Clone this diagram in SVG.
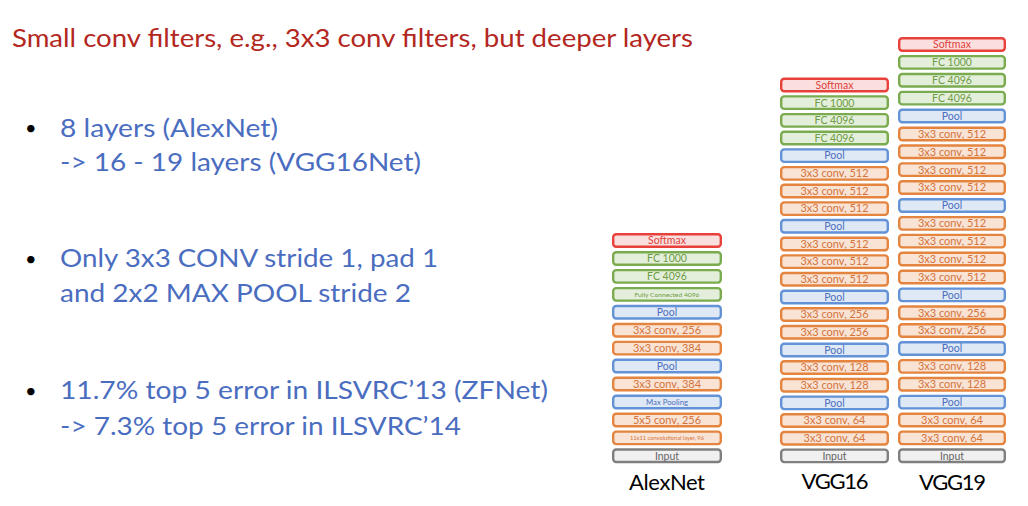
<svg xmlns="http://www.w3.org/2000/svg" width="1028" height="506" viewBox="0 0 1028 506">
<style>
text{font-family:Lato,"Open Sans","Liberation Sans",sans-serif}
.title{fill:#b3271e;font-size:25px}
.bl{fill:#4a6dbf;font-size:25px}
.dot{fill:#000;font-size:20px}
.cap{fill:#000;font-size:22px;text-anchor:middle}
rect{stroke-width:2.4}
.t{font-size:10.5px;text-anchor:middle}
.cv .t{font-size:11px}
.sm rect{fill:#fadfdf;stroke:#e8403a}.sm text{fill:#e0413a}
.fc rect{fill:#e3efda;stroke:#7aab4f}.fc text{fill:#6f9c45}
.pl rect{fill:#dfe9f5;stroke:#6393d6}.pl text{fill:#4d6fbd}
.cv rect{fill:#f8e3d5;stroke:#e4843f}.cv text{fill:#d5733a}
.in rect{fill:#f0f0f0;stroke:#7f7f7f}.in text{fill:#666}
</style>
<rect width="1028" height="506" fill="#fff" stroke="none"/>
<text class="title" x="12" y="47" textLength="681" lengthAdjust="spacingAndGlyphs">Small conv filters, e.g., 3x3 conv filters, but deeper layers</text>
<g id="bullets">
<text class="dot" x="25" y="134.5">•</text>
<text class="bl" x="60" y="136.5" textLength="218" lengthAdjust="spacingAndGlyphs">8 layers (AlexNet)</text>
<text class="bl" x="60" y="171" textLength="361" lengthAdjust="spacingAndGlyphs">-&gt; 16 - 19 layers (VGG16Net)</text>
<text class="dot" x="25" y="266">•</text>
<text class="bl" x="60" y="267" textLength="378" lengthAdjust="spacingAndGlyphs">Only 3x3 CONV stride 1, pad 1</text>
<text class="bl" x="60" y="302" textLength="351" lengthAdjust="spacingAndGlyphs">and 2x2 MAX POOL stride 2</text>
<text class="dot" x="25" y="397.5">•</text>
<text class="bl" x="60" y="399" textLength="488" lengthAdjust="spacingAndGlyphs">11.7% top 5 error in ILSVRC’13 (ZFNet)</text>
<text class="bl" x="60" y="435" textLength="401" lengthAdjust="spacingAndGlyphs">-&gt; 7.3% top 5 error in ILSVRC’14</text>
</g>
<g id="alexnet">
<g id="a0" class="sm"><rect x="613.2" y="234.3" width="107.6" height="12.5" rx="3"/><text class="t" x="667" y="244.3">Softmax</text></g>
<g id="a1" class="fc"><rect x="613.2" y="252.2" width="107.6" height="12.5" rx="3"/><text class="t" x="667" y="262.2">FC 1000</text></g>
<g id="a2" class="fc"><rect x="613.2" y="270.1" width="107.6" height="12.5" rx="3"/><text class="t" x="667" y="280.2">FC 4096</text></g>
<g id="a3" class="fc"><rect x="613.2" y="288.1" width="107.6" height="12.5" rx="3"/><text class="t" x="667" y="296.7" style="font-size:6.5px" textLength="65" lengthAdjust="spacingAndGlyphs">Fully Connected 4096</text></g>
<g id="a4" class="pl"><rect x="613.2" y="306" width="107.6" height="12.5" rx="3"/><text class="t" x="667" y="316.1">Pool</text></g>
<g id="a5" class="cv"><rect x="613.2" y="324" width="107.6" height="12.5" rx="3"/><text class="t" x="667" y="334.1">3x3 conv, 256</text></g>
<g id="a6" class="cv"><rect x="613.2" y="341.9" width="107.6" height="12.5" rx="3"/><text class="t" x="667" y="352">3x3 conv, 384</text></g>
<g id="a7" class="pl"><rect x="613.2" y="359.8" width="107.6" height="12.5" rx="3"/><text class="t" x="667" y="369.9">Pool</text></g>
<g id="a8" class="cv"><rect x="613.2" y="377.8" width="107.6" height="12.5" rx="3"/><text class="t" x="667" y="387.9">3x3 conv, 384</text></g>
<g id="a9" class="pl"><rect x="613.2" y="395.7" width="107.6" height="12.5" rx="3"/><text class="t" x="667" y="404.8" style="font-size:7.5px" textLength="42" lengthAdjust="spacingAndGlyphs">Max Pooling</text></g>
<g id="a10" class="cv"><rect x="613.2" y="413.7" width="107.6" height="12.5" rx="3"/><text class="t" x="667" y="423.8">5x5 conv, 256</text></g>
<g id="a11" class="cv"><rect x="613.2" y="431.6" width="107.6" height="12.5" rx="3"/><text class="t" x="667" y="439.7" style="font-size:5px" textLength="74" lengthAdjust="spacingAndGlyphs">11x11 convolutional layer, 96</text></g>
<g id="a12" class="in"><rect x="613.2" y="449.5" width="107.6" height="12.5" rx="3"/><text class="t" x="667" y="459.6">Input</text></g>
</g>
<g id="vgg16">
<g id="b0" class="sm"><rect x="781.2" y="78.8" width="106.6" height="12.5" rx="3"/><text class="t" x="834.5" y="88.8">Softmax</text></g>
<g id="b1" class="fc"><rect x="781.2" y="96.4" width="106.6" height="12.5" rx="3"/><text class="t" x="834.5" y="106.5">FC 1000</text></g>
<g id="b2" class="fc"><rect x="781.2" y="114.1" width="106.6" height="12.5" rx="3"/><text class="t" x="834.5" y="124.1">FC 4096</text></g>
<g id="b3" class="fc"><rect x="781.2" y="131.7" width="106.6" height="12.5" rx="3"/><text class="t" x="834.5" y="141.8">FC 4096</text></g>
<g id="b4" class="pl"><rect x="781.2" y="149.4" width="106.6" height="12.5" rx="3"/><text class="t" x="834.5" y="159.4">Pool</text></g>
<g id="b5" class="cv"><rect x="781.2" y="167.1" width="106.6" height="12.5" rx="3"/><text class="t" x="834.5" y="177.1">3x3 conv, 512</text></g>
<g id="b6" class="cv"><rect x="781.2" y="184.7" width="106.6" height="12.5" rx="3"/><text class="t" x="834.5" y="194.8">3x3 conv, 512</text></g>
<g id="b7" class="cv"><rect x="781.2" y="202.4" width="106.6" height="12.5" rx="3"/><text class="t" x="834.5" y="212.4">3x3 conv, 512</text></g>
<g id="b8" class="pl"><rect x="781.2" y="220" width="106.6" height="12.5" rx="3"/><text class="t" x="834.5" y="230.1">Pool</text></g>
<g id="b9" class="cv"><rect x="781.2" y="237.7" width="106.6" height="12.5" rx="3"/><text class="t" x="834.5" y="247.7">3x3 conv, 512</text></g>
<g id="b10" class="cv"><rect x="781.2" y="255.4" width="106.6" height="12.5" rx="3"/><text class="t" x="834.5" y="265.4">3x3 conv, 512</text></g>
<g id="b11" class="cv"><rect x="781.2" y="273" width="106.6" height="12.5" rx="3"/><text class="t" x="834.5" y="283.1">3x3 conv, 512</text></g>
<g id="b12" class="pl"><rect x="781.2" y="290.7" width="106.6" height="12.5" rx="3"/><text class="t" x="834.5" y="300.7">Pool</text></g>
<g id="b13" class="cv"><rect x="781.2" y="308.3" width="106.6" height="12.5" rx="3"/><text class="t" x="834.5" y="318.4">3x3 conv, 256</text></g>
<g id="b14" class="cv"><rect x="781.2" y="326" width="106.6" height="12.5" rx="3"/><text class="t" x="834.5" y="336">3x3 conv, 256</text></g>
<g id="b15" class="pl"><rect x="781.2" y="343.7" width="106.6" height="12.5" rx="3"/><text class="t" x="834.5" y="353.7">Pool</text></g>
<g id="b16" class="cv"><rect x="781.2" y="361.3" width="106.6" height="12.5" rx="3"/><text class="t" x="834.5" y="371.4">3x3 conv, 128</text></g>
<g id="b17" class="cv"><rect x="781.2" y="379" width="106.6" height="12.5" rx="3"/><text class="t" x="834.5" y="389">3x3 conv, 128</text></g>
<g id="b18" class="pl"><rect x="781.2" y="396.6" width="106.6" height="12.5" rx="3"/><text class="t" x="834.5" y="406.7">Pool</text></g>
<g id="b19" class="cv"><rect x="781.2" y="414.3" width="106.6" height="12.5" rx="3"/><text class="t" x="834.5" y="424.3">3x3 conv, 64</text></g>
<g id="b20" class="cv"><rect x="781.2" y="432" width="106.6" height="12.5" rx="3"/><text class="t" x="834.5" y="442">3x3 conv, 64</text></g>
<g id="b21" class="in"><rect x="781.2" y="449.6" width="106.6" height="12.5" rx="3"/><text class="t" x="834.5" y="459.7">Input</text></g>
</g>
<g id="vgg19">
<g id="c0" class="sm"><rect x="899.2" y="38.3" width="105.6" height="12.5" rx="3"/><text class="t" x="952" y="48.3">Softmax</text></g>
<g id="c1" class="fc"><rect x="899.2" y="56.1" width="105.6" height="12.5" rx="3"/><text class="t" x="952" y="66.2">FC 1000</text></g>
<g id="c2" class="fc"><rect x="899.2" y="74" width="105.6" height="12.5" rx="3"/><text class="t" x="952" y="84.1">FC 4096</text></g>
<g id="c3" class="fc"><rect x="899.2" y="91.9" width="105.6" height="12.5" rx="3"/><text class="t" x="952" y="101.9">FC 4096</text></g>
<g id="c4" class="pl"><rect x="899.2" y="109.8" width="105.6" height="12.5" rx="3"/><text class="t" x="952" y="119.8">Pool</text></g>
<g id="c5" class="cv"><rect x="899.2" y="127.7" width="105.6" height="12.5" rx="3"/><text class="t" x="952" y="137.7">3x3 conv, 512</text></g>
<g id="c6" class="cv"><rect x="899.2" y="145.5" width="105.6" height="12.5" rx="3"/><text class="t" x="952" y="155.6">3x3 conv, 512</text></g>
<g id="c7" class="cv"><rect x="899.2" y="163.4" width="105.6" height="12.5" rx="3"/><text class="t" x="952" y="173.5">3x3 conv, 512</text></g>
<g id="c8" class="cv"><rect x="899.2" y="181.3" width="105.6" height="12.5" rx="3"/><text class="t" x="952" y="191.3">3x3 conv, 512</text></g>
<g id="c9" class="pl"><rect x="899.2" y="199.2" width="105.6" height="12.5" rx="3"/><text class="t" x="952" y="209.2">Pool</text></g>
<g id="c10" class="cv"><rect x="899.2" y="217.1" width="105.6" height="12.5" rx="3"/><text class="t" x="952" y="227.1">3x3 conv, 512</text></g>
<g id="c11" class="cv"><rect x="899.2" y="234.9" width="105.6" height="12.5" rx="3"/><text class="t" x="952" y="245">3x3 conv, 512</text></g>
<g id="c12" class="cv"><rect x="899.2" y="252.8" width="105.6" height="12.5" rx="3"/><text class="t" x="952" y="262.9">3x3 conv, 512</text></g>
<g id="c13" class="cv"><rect x="899.2" y="270.7" width="105.6" height="12.5" rx="3"/><text class="t" x="952" y="280.7">3x3 conv, 512</text></g>
<g id="c14" class="pl"><rect x="899.2" y="288.6" width="105.6" height="12.5" rx="3"/><text class="t" x="952" y="298.6">Pool</text></g>
<g id="c15" class="cv"><rect x="899.2" y="306.5" width="105.6" height="12.5" rx="3"/><text class="t" x="952" y="316.5">3x3 conv, 256</text></g>
<g id="c16" class="cv"><rect x="899.2" y="324.3" width="105.6" height="12.5" rx="3"/><text class="t" x="952" y="334.4">3x3 conv, 256</text></g>
<g id="c17" class="pl"><rect x="899.2" y="342.2" width="105.6" height="12.5" rx="3"/><text class="t" x="952" y="352.3">Pool</text></g>
<g id="c18" class="cv"><rect x="899.2" y="360.1" width="105.6" height="12.5" rx="3"/><text class="t" x="952" y="370.1">3x3 conv, 128</text></g>
<g id="c19" class="cv"><rect x="899.2" y="378" width="105.6" height="12.5" rx="3"/><text class="t" x="952" y="388">3x3 conv, 128</text></g>
<g id="c20" class="pl"><rect x="899.2" y="395.9" width="105.6" height="12.5" rx="3"/><text class="t" x="952" y="405.9">Pool</text></g>
<g id="c21" class="cv"><rect x="899.2" y="413.7" width="105.6" height="12.5" rx="3"/><text class="t" x="952" y="423.8">3x3 conv, 64</text></g>
<g id="c22" class="cv"><rect x="899.2" y="431.6" width="105.6" height="12.5" rx="3"/><text class="t" x="952" y="441.7">3x3 conv, 64</text></g>
<g id="c23" class="in"><rect x="899.2" y="449.5" width="105.6" height="12.5" rx="3"/><text class="t" x="952" y="459.5">Input</text></g>
</g>
<g id="labels">
<text class="cap" x="667" y="490" textLength="76" lengthAdjust="spacing">AlexNet</text>
<text class="cap" x="835" y="489" textLength="67" lengthAdjust="spacing">VGG16</text>
<text class="cap" x="952.5" y="490" textLength="67" lengthAdjust="spacing">VGG19</text>
</g>
</svg>
